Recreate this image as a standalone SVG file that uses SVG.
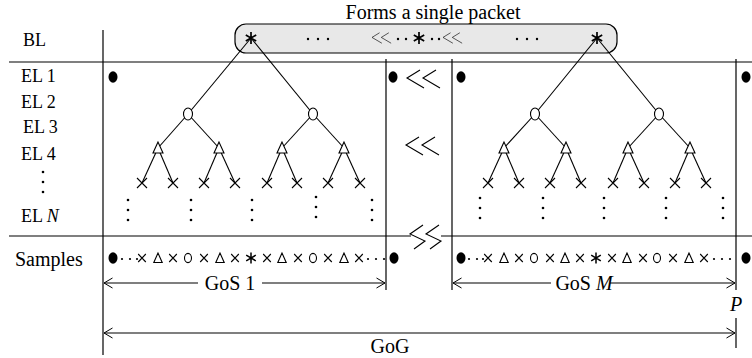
<svg xmlns="http://www.w3.org/2000/svg" xmlns:xlink="http://www.w3.org/1999/xlink" width="752" height="358" viewBox="0 0 752 358">
<style>
text{font-family:"Liberation Serif","Times New Roman",serif;font-size:20px;fill:#000}
.lab{font-size:18px}
.it{font-style:italic}
.ln{stroke:#000;stroke-width:1.2;fill:none}
.tl{stroke:#000;stroke-width:1.1;fill:none}
.sym{stroke:#000;stroke-width:1.1;fill:none}
.wf{stroke:#000;stroke-width:1.1;fill:#fff}
.dot{fill:#000}
</style>
<defs>
<marker id="arr" viewBox="0 0 10 12" refX="9.5" refY="6" markerWidth="10" markerHeight="12" markerUnits="userSpaceOnUse" orient="auto-start-reverse">
<path d="M1,1 L9.5,6 L1,11" fill="none" stroke="#000" stroke-width="1"/>
</marker>
<path id="tx" d="M-5,-5 L5,5 M5,-5 L-5,5" class="sym"/>
<path id="tt" d="M0,-6 L-5,5 L5,5 Z" class="wf"/>
<ellipse id="to" rx="4.5" ry="6" class="wf"/>
<path id="ta" d="M0,-6 L0,6 M-5.2,-3 L5.2,3 M-5.2,3 L5.2,-3" stroke="#000" stroke-width="1.7" fill="none"/>
<path id="sx" d="M-3.8,-4 L3.8,4 M3.8,-4 L-3.8,4" class="sym"/>
<path id="st" d="M0,-5 L-4.2,4.5 L4.2,4.5 Z" class="sym"/>
<ellipse id="so" rx="3.5" ry="4.6" class="sym"/>
<path id="sa" d="M0,-5.5 L0,5.5 M-4.8,-2.8 L4.8,2.8 M-4.8,2.8 L4.8,-2.8" stroke="#000" stroke-width="1.5" fill="none"/>
<ellipse id="be" rx="4.5" ry="5.8" class="dot"/>
<g id="vd"><circle cx="0" cy="0" r="1.3" class="dot"/><circle cx="0" cy="10" r="1.3" class="dot"/><circle cx="0" cy="20" r="1.3" class="dot"/></g>
<path id="brk" d="M13,-9 L0,-1 L17,9 M29,-9 L16,-1 L33,9" class="sym"/>
<path id="brk2" d="M13,-12 L0,-3 L15,4 L4,12 M29,-12 L16,-3 L31,4 L20,12" class="sym"/>
</defs>

<g id="frame">
<line x1="103" y1="30" x2="103" y2="355" class="ln"/>
<line x1="9" y1="62" x2="752" y2="62" class="ln"/>
<line x1="9" y1="236" x2="411" y2="236" class="ln"/>
<line x1="441" y1="236" x2="752" y2="236" class="ln"/>
<line x1="386" y1="59" x2="386" y2="290" class="ln"/>
<line x1="452" y1="59" x2="452" y2="290" class="ln"/>
<line x1="736" y1="59" x2="736" y2="290" class="ln"/>
<line x1="736" y1="318" x2="736" y2="348" class="ln"/>
</g>

<g id="labels">
<text class="lab" x="23" y="46">BL</text>
<text class="lab" x="21" y="82">EL 1</text>
<text class="lab" x="21" y="108">EL 2</text>
<text class="lab" x="23" y="133">EL 3</text>
<text class="lab" x="21" y="160">EL 4</text>
<use href="#vd" x="43" y="172"/>
<text class="lab" x="21" y="222">EL <tspan class="it">N</tspan></text>
<text x="15" y="266">Samples</text>
</g>

<g id="packet">
<text x="433" y="19" text-anchor="middle">Forms a single packet</text>
<rect x="235" y="24" width="382" height="29" rx="11" fill="#e8e8e8" stroke="#000" stroke-width="1.2"/>
<circle cx="308" cy="39" r="1.2" class="dot"/><circle cx="318" cy="39" r="1.2" class="dot"/><circle cx="328" cy="39" r="1.2" class="dot"/>
<circle cx="517" cy="39" r="1.2" class="dot"/><circle cx="527" cy="39" r="1.2" class="dot"/><circle cx="537" cy="39" r="1.2" class="dot"/>
<use href="#brk" transform="translate(372,38) scale(0.58)"/>
<circle cx="398" cy="39" r="1.2" class="dot"/><circle cx="406" cy="39" r="1.2" class="dot"/>
<circle cx="432" cy="39" r="1.2" class="dot"/><circle cx="439" cy="39" r="1.2" class="dot"/>
<use href="#brk" transform="translate(443,38) scale(0.58)"/>
</g>

<g id="connectors">
<line x1="251" y1="38" x2="188" y2="114" class="tl"/><line x1="251" y1="38" x2="313" y2="114" class="tl"/>
<line x1="188" y1="114" x2="158" y2="148" class="tl"/><line x1="188" y1="114" x2="219" y2="148" class="tl"/>
<line x1="313" y1="114" x2="282" y2="148" class="tl"/><line x1="313" y1="114" x2="344" y2="148" class="tl"/>
<line x1="158" y1="148" x2="142" y2="183" class="tl"/><line x1="158" y1="148" x2="173" y2="183" class="tl"/>
<line x1="219" y1="148" x2="204" y2="183" class="tl"/><line x1="219" y1="148" x2="235" y2="183" class="tl"/>
<line x1="282" y1="148" x2="267" y2="183" class="tl"/><line x1="282" y1="148" x2="297" y2="183" class="tl"/>
<line x1="344" y1="148" x2="328" y2="183" class="tl"/><line x1="344" y1="148" x2="360" y2="183" class="tl"/>
<line x1="597" y1="38" x2="535" y2="114" class="tl"/><line x1="597" y1="38" x2="659" y2="114" class="tl"/>
<line x1="535" y1="114" x2="504" y2="148" class="tl"/><line x1="535" y1="114" x2="566" y2="148" class="tl"/>
<line x1="659" y1="114" x2="628" y2="148" class="tl"/><line x1="659" y1="114" x2="690" y2="148" class="tl"/>
<line x1="504" y1="148" x2="488" y2="183" class="tl"/><line x1="504" y1="148" x2="519" y2="183" class="tl"/>
<line x1="566" y1="148" x2="550" y2="183" class="tl"/><line x1="566" y1="148" x2="581" y2="183" class="tl"/>
<line x1="628" y1="148" x2="613" y2="183" class="tl"/><line x1="628" y1="148" x2="644" y2="183" class="tl"/>
<line x1="690" y1="148" x2="675" y2="183" class="tl"/><line x1="690" y1="148" x2="706" y2="183" class="tl"/>
</g>

<g id="tree1">
<g id="n1-root"><use href="#ta" x="251" y="38"/></g>
<g id="n1-c1"><use href="#to" x="188" y="114"/></g>
<g id="n1-c2"><use href="#to" x="313" y="114"/></g>
<g id="n1-t1"><use href="#tt" x="158" y="148"/></g>
<g id="n1-t2"><use href="#tt" x="219" y="148"/></g>
<g id="n1-t3"><use href="#tt" x="282" y="148"/></g>
<g id="n1-t4"><use href="#tt" x="344" y="148"/></g>
<g id="n1-x"><use href="#tx" x="142" y="183"/><use href="#tx" x="173" y="183"/><use href="#tx" x="204" y="183"/><use href="#tx" x="235" y="183"/><use href="#tx" x="267" y="183"/><use href="#tx" x="297" y="183"/><use href="#tx" x="328" y="183"/><use href="#tx" x="360" y="183"/></g>
<g id="n1-dots"><use href="#vd" x="128" y="200"/><use href="#vd" x="191" y="200"/><use href="#vd" x="252" y="200"/><use href="#vd" x="316" y="197"/><use href="#vd" x="372" y="200"/></g>
</g>

<g id="tree2">
<g id="n2-root"><use href="#ta" x="597" y="38"/></g>
<g id="n2-root-mid"><use href="#ta" x="419" y="38"/></g>
<g id="n2-c1"><use href="#to" x="535" y="114"/></g>
<g id="n2-c2"><use href="#to" x="659" y="114"/></g>
<g id="n2-t1"><use href="#tt" x="504" y="148"/></g>
<g id="n2-t2"><use href="#tt" x="566" y="148"/></g>
<g id="n2-t3"><use href="#tt" x="628" y="148"/></g>
<g id="n2-t4"><use href="#tt" x="690" y="148"/></g>
<g id="n2-x"><use href="#tx" x="488" y="183"/><use href="#tx" x="519" y="183"/><use href="#tx" x="550" y="183"/><use href="#tx" x="581" y="183"/><use href="#tx" x="613" y="183"/><use href="#tx" x="644" y="183"/><use href="#tx" x="675" y="183"/><use href="#tx" x="706" y="183"/></g>
<g id="n2-dots"><use href="#vd" x="480" y="198"/><use href="#vd" x="543" y="198"/><use href="#vd" x="604" y="198"/><use href="#vd" x="666" y="198"/><use href="#vd" x="723" y="198"/></g>
</g>

<g id="el1-marks">
<use href="#be" x="113" y="77"/><use href="#be" x="393" y="77"/><use href="#be" x="461" y="77"/><use href="#be" x="746" y="77"/>
</g>

<g id="breaks">
<use href="#brk" transform="translate(407,79)"/>
<use href="#brk" transform="translate(406,146)"/>
<use href="#brk2" transform="translate(410,237)"/>
</g>

<g id="samples1">
<use href="#be" x="113" y="258"/>
<circle cx="122" cy="259" r="1.1" class="dot"/><circle cx="130" cy="259" r="1.1" class="dot"/><circle cx="137" cy="259" r="1.1" class="dot"/>
<use href="#sx" x="142" y="258"/><use href="#st" x="158" y="258"/><use href="#sx" x="173" y="258"/><use href="#so" x="188" y="258"/>
<use href="#sx" x="204" y="258"/><use href="#st" x="220" y="258"/><use href="#sx" x="235" y="258"/><use href="#sa" x="251" y="258"/>
<use href="#sx" x="267" y="258"/><use href="#st" x="282" y="258"/><use href="#sx" x="298" y="258"/><use href="#so" x="313" y="258"/>
<use href="#sx" x="328" y="258"/><use href="#st" x="344" y="258"/><use href="#sx" x="359" y="258"/>
<circle cx="368" cy="259" r="1.1" class="dot"/><circle cx="376" cy="259" r="1.1" class="dot"/><circle cx="384" cy="259" r="1.1" class="dot"/>
<use href="#be" x="394" y="258"/>
</g>

<g id="samples2">
<use href="#be" x="461" y="258"/>
<circle cx="469" cy="259" r="1.1" class="dot"/><circle cx="477" cy="259" r="1.1" class="dot"/><circle cx="483" cy="259" r="1.1" class="dot"/>
<use href="#sx" x="488" y="258"/><use href="#st" x="504" y="258"/><use href="#sx" x="519" y="258"/><use href="#so" x="534" y="258"/>
<use href="#sx" x="550" y="258"/><use href="#st" x="565" y="258"/><use href="#sx" x="580" y="258"/><use href="#sa" x="596" y="258"/>
<use href="#sx" x="612" y="258"/><use href="#st" x="627" y="258"/><use href="#sx" x="643" y="258"/><use href="#so" x="657" y="258"/>
<use href="#sx" x="673" y="258"/><use href="#st" x="689" y="258"/><use href="#sx" x="704" y="258"/>
<circle cx="714" cy="259" r="1.1" class="dot"/><circle cx="722" cy="259" r="1.1" class="dot"/><circle cx="730" cy="259" r="1.1" class="dot"/>
<use href="#be" x="746" y="258"/>
</g>

<g id="spans">
<line x1="104" y1="283" x2="198" y2="283" class="tl" marker-start="url(#arr)"/>
<line x1="262" y1="283" x2="385" y2="283" class="tl" marker-end="url(#arr)"/>
<text x="230" y="290" text-anchor="middle">GoS 1</text>
<line x1="453" y1="283" x2="551" y2="283" class="tl" marker-start="url(#arr)"/>
<line x1="610" y1="283" x2="735" y2="283" class="tl" marker-end="url(#arr)"/>
<text x="584" y="290" text-anchor="middle">GoS <tspan class="it">M</tspan></text>
<text x="736" y="311" text-anchor="middle" class="it">P</text>
<line x1="104" y1="333" x2="735" y2="333" class="tl" marker-start="url(#arr)" marker-end="url(#arr)"/>
<text x="390" y="353" text-anchor="middle">GoG</text>
</g>
</svg>
